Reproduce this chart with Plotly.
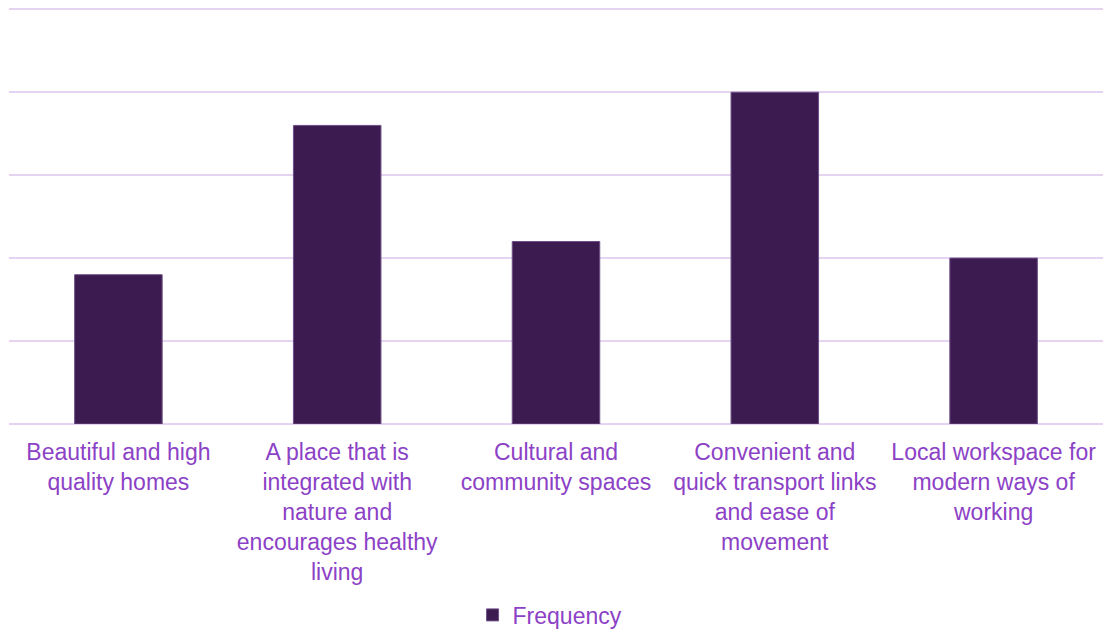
import plotly.graph_objects as go

categories = [
    "Beautiful and high<br>quality homes",
    "A place that is<br>integrated with<br>nature and<br>encourages healthy<br>living",
    "Cultural and<br>community spaces",
    "Convenient and<br>quick transport links<br>and ease of<br>movement",
    "Local workspace for<br>modern ways of<br>working",
]
frequency = [9, 18, 11, 20, 10]

bar_color = "#3C1B51"
text_color = "#8C42C6"
grid_color = "#E4D4F2"

fig = go.Figure(
    go.Bar(
        x=categories,
        y=frequency,
        name="Frequency",
        marker=dict(color=bar_color, line=dict(color="#6E4F88", width=1)),
        showlegend=True,
    )
)

fig.update_layout(
    width=1109,
    height=632,
    margin=dict(l=9, r=6, t=1, b=208, autoexpand=False),
    paper_bgcolor="white",
    plot_bgcolor="white",
    bargap=0.6,
    font=dict(family="Liberation Sans, Arial, sans-serif", size=23, color=text_color),
    legend=dict(
        orientation="h",
        x=0.496,
        xanchor="center",
        xref="container",
        y=0.027,
        yanchor="middle",
        yref="container",
        font=dict(size=23, color=text_color),
        itemwidth=30,
    ),
)

fig.update_xaxes(
    showgrid=False,
    showline=False,
    ticks="",
    automargin=False,
    ticklabelstandoff=12,
    tickfont=dict(size=23, color=text_color),
    tickangle=0,
)
fig.update_yaxes(
    range=[0, 25.5],
    dtick=5,
    showgrid=True,
    gridcolor=grid_color,
    gridwidth=2,
    zeroline=True,
    zerolinecolor=grid_color,
    zerolinewidth=2,
    showticklabels=False,
    automargin=False,
    ticks="",
)

fig.write_html("out.html")
